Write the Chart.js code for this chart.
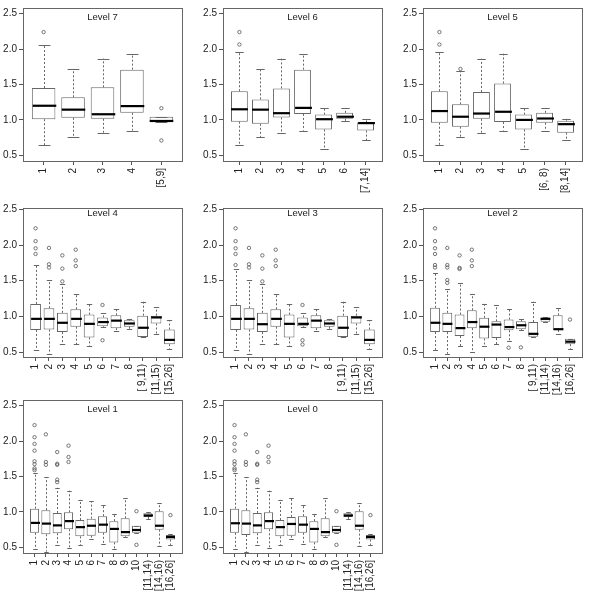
<!DOCTYPE html>
<html>
<head>
<meta charset="utf-8">
<script src="https://cdn.jsdelivr.net/npm/chart.js@4.4.0/dist/chart.umd.min.js"></script>
<style>
  body { margin: 0; background: #fff; }
  #wrap { position: relative; width: 600px; height: 600px; overflow: hidden; }
  .cell { position: absolute; width: 200px; height: 200px; }
</style>
</head>
<body>
<div id="wrap"></div>
<script>
// each box: [lower whisker, Q1, median, Q3, upper whisker]
const lab7 = ['1', '2', '3', '4', '[5,9]'];
const box7 = [
  [0.64, 1.01, 1.20, 1.45, 2.06],
  [0.76, 1.03, 1.145, 1.32, 1.72],
  [0.82, 1.015, 1.08, 1.46, 1.865],
  [0.85, 1.10, 1.195, 1.71, 1.935],
  [0.975, 0.975, 0.985, 1.045, 1.045]
];
const out7 = [[2.24], [], [], [], [1.165, 0.71]];

const lab6 = ['1', '2', '3', '4', '5', '6', '[7,14]'];
const box6 = [
  [0.64, 0.975, 1.15, 1.405, 1.955],
  [0.76, 0.945, 1.145, 1.29, 1.715],
  [0.82, 1.035, 1.095, 1.445, 1.865],
  [0.85, 1.085, 1.17, 1.71, 1.935],
  [0.585, 0.865, 1.01, 1.075, 1.17],
  [0.985, 1.015, 1.045, 1.10, 1.17],
  [0.71, 0.85, 0.955, 0.965, 1.015]
];
const out6 = [[2.24, 2.065], [], [], [], [], [], []];

const lab5 = ['1', '2', '3', '4', '5', '[6, 8)', '[8,14]'];
const box5 = [
  [0.64, 0.96, 1.125, 1.405, 1.955],
  [0.76, 0.905, 1.045, 1.22, 1.685],
  [0.82, 1.015, 1.09, 1.395, 1.865],
  [0.85, 0.97, 1.115, 1.515, 1.935],
  [0.585, 0.865, 1.0, 1.075, 1.17],
  [0.85, 0.96, 1.02, 1.10, 1.17],
  [0.71, 0.82, 0.94, 0.99, 1.015]
];
const out5 = [[2.24, 2.065], [1.72], [], [], [], [], []];

const lab4 = ['1', '2', '3', '4', '5', '6', '7', '8', '[ 9,11)', '[11,15)', '[15,26]'];
const box4 = [
  [0.53, 0.81, 0.965, 1.175, 1.72],
  [0.475, 0.815, 0.965, 1.115, 1.505],
  [0.615, 0.78, 0.91, 1.05, 1.45],
  [0.61, 0.855, 0.965, 1.10, 1.315],
  [0.585, 0.705, 0.895, 1.025, 1.175],
  [0.845, 0.86, 0.92, 0.985, 1.045],
  [0.795, 0.835, 0.94, 1.015, 1.11],
  [0.825, 0.855, 0.90, 0.945, 0.965],
  [0.71, 0.71, 0.84, 1.01, 1.205],
  [0.755, 0.90, 0.985, 1.01, 1.125],
  [0.545, 0.61, 0.67, 0.815, 0.95]
];
const out4 = [[2.235, 2.055, 1.955, 1.875], [1.96, 1.73, 1.685], [1.855, 1.67, 1.49],
  [1.935, 1.785, 1.705], [], [1.16, 0.665], [], [], [], [], []];

const lab3 = lab4;
const box3 = [
  [0.53, 0.81, 0.965, 1.16, 1.66],
  [0.475, 0.815, 0.965, 1.115, 1.505],
  [0.615, 0.78, 0.89, 1.05, 1.45],
  [0.61, 0.855, 0.965, 1.10, 1.315],
  [0.585, 0.705, 0.895, 1.025, 1.175],
  [0.845, 0.86, 0.895, 0.985, 1.045],
  [0.795, 0.835, 0.94, 1.015, 1.11],
  [0.825, 0.855, 0.90, 0.945, 0.965],
  [0.71, 0.71, 0.84, 1.01, 1.205],
  [0.755, 0.90, 0.985, 1.01, 1.125],
  [0.545, 0.61, 0.67, 0.815, 0.95]
];
const out3 = [[2.235, 2.055, 1.955, 1.875, 1.72], [1.96, 1.73, 1.685], [1.855, 1.67, 1.49],
  [1.935, 1.785, 1.705], [], [1.16, 0.665, 0.605], [], [], [], [], []];

const lab2 = ['1', '2', '3', '4', '5', '6', '7', '8', '[ 9,11)', '[11,14)', '[14,16)', '[16,26]'];
const box2 = [
  [0.53, 0.78, 0.91, 1.12, 1.615],
  [0.475, 0.78, 0.895, 1.05, 1.385],
  [0.585, 0.725, 0.835, 1.025, 1.47],
  [0.50, 0.835, 0.92, 1.085, 1.315],
  [0.585, 0.69, 0.855, 0.98, 1.175],
  [0.61, 0.695, 0.885, 0.93, 1.16],
  [0.65, 0.805, 0.85, 0.955, 1.11],
  [0.805, 0.82, 0.875, 0.93, 0.965],
  [0.715, 0.715, 0.755, 0.92, 1.205],
  [0.915, 0.925, 0.965, 0.985, 0.99],
  [0.755, 0.81, 0.82, 1.015, 1.12],
  [0.545, 0.61, 0.645, 0.685, 0.685]
];
const out2 = [[2.235, 2.055, 1.955, 1.875, 1.72, 1.685], [1.96, 1.72, 1.685, 1.51, 1.47],
  [1.855, 1.68, 1.665], [1.935, 1.785, 1.705], [], [], [0.56], [0.565], [], [], [], [0.955]];

const lab1 = ['1', '2', '3', '4', '5', '6', '7', '8', '9', '10', '[11,14)', '[14,16)', '[16,26]'];
const box1 = [
  [0.475, 0.705, 0.845, 1.045, 1.545],
  [0.44, 0.685, 0.835, 1.025, 1.49],
  [0.53, 0.70, 0.81, 0.985, 1.34],
  [0.495, 0.755, 0.87, 0.995, 1.30],
  [0.53, 0.655, 0.785, 0.885, 1.17],
  [0.615, 0.665, 0.805, 0.905, 1.15],
  [0.55, 0.705, 0.82, 0.94, 1.10],
  [0.475, 0.57, 0.76, 0.87, 0.965],
  [0.645, 0.655, 0.715, 0.91, 1.19],
  [0.705, 0.705, 0.745, 0.805, 0.805],
  [0.895, 0.93, 0.95, 0.98, 0.995],
  [0.52, 0.75, 0.805, 1.01, 1.12],
  [0.535, 0.61, 0.645, 0.675, 0.685]
];
const out1 = [[2.225, 2.055, 1.96, 1.865, 1.715, 1.675, 1.615, 1.59], [2.095, 1.705, 1.665],
  [1.845, 1.68, 1.665, 1.455, 1.42], [1.935, 1.775, 1.705], [], [], [], [], [],
  [1.01, 0.535], [], [], [0.955]];

const lab0 = lab1;
const box0 = [
  [0.475, 0.705, 0.84, 1.045, 1.545],
  [0.44, 0.675, 0.835, 1.025, 1.49],
  [0.53, 0.70, 0.81, 0.985, 1.34],
  [0.495, 0.755, 0.87, 0.995, 1.30],
  [0.53, 0.655, 0.785, 0.885, 1.17],
  [0.615, 0.665, 0.83, 0.93, 1.19],
  [0.55, 0.705, 0.82, 0.94, 1.10],
  [0.475, 0.57, 0.76, 0.87, 0.965],
  [0.645, 0.655, 0.715, 0.91, 1.19],
  [0.705, 0.705, 0.745, 0.805, 0.805],
  [0.895, 0.93, 0.95, 0.98, 0.995],
  [0.52, 0.75, 0.805, 1.01, 1.12],
  [0.535, 0.61, 0.645, 0.675, 0.685]
];
const out0 = out1;

const yTicks = [0.5, 1.0, 1.5, 2.0, 2.5];

const FONT = '"Liberation Sans", Arial, sans-serif';
const LINE = '#666';

// row placement (canvas top, plot top / bottom inside the canvas, y range)
const rows = [
  { top: 0, plotTop: 5, plotBottom: 161, min: 0.42, max: 2.58 },
  { top: 200, plotTop: 5, plotBottom: 157, min: 0.43, max: 2.52 },
  { top: 392, plotTop: 5, plotBottom: 161, min: 0.42, max: 2.58 }
];

const boxPlugin = {
  id: 'boxPlot',
  afterDatasetsDraw(chart, args, opts) {
    const ctx = chart.ctx;
    const x = chart.scales.x, y = chart.scales.y;
    const a = chart.chartArea;
    const boxes = opts.boxes || [];
    const bars = chart.getDatasetMeta(0).data;
    ctx.save();
    boxes.forEach((b, i) => {
      if (!bars[i]) return;
      const cx = Math.round(x.getPixelForValue(i + 1)) + 0.5;
      const w = bars[i].width;
      const cap = w * 0.25;
      ctx.strokeStyle = LINE;
      ctx.lineWidth = 1;
      // whiskers
      ctx.setLineDash([2, 2]);
      ctx.beginPath();
      ctx.moveTo(cx, y.getPixelForValue(b[3]));
      ctx.lineTo(cx, y.getPixelForValue(b[4]));
      ctx.moveTo(cx, y.getPixelForValue(b[1]));
      ctx.lineTo(cx, y.getPixelForValue(b[0]));
      ctx.stroke();
      ctx.setLineDash([]);
      // caps
      ctx.beginPath();
      [b[0], b[4]].forEach(v => {
        const py = Math.round(y.getPixelForValue(v)) + 0.5;
        ctx.moveTo(cx - cap, py);
        ctx.lineTo(cx + cap, py);
      });
      ctx.stroke();
      // median
      ctx.strokeStyle = '#000';
      ctx.lineWidth = 2.2;
      ctx.beginPath();
      const my = y.getPixelForValue(b[2]);
      ctx.moveTo(cx - w / 2, my);
      ctx.lineTo(cx + w / 2, my);
      ctx.stroke();
    });
    // frame
    ctx.strokeStyle = LINE;
    ctx.lineWidth = 1;
    ctx.strokeRect(Math.round(a.left) + 0.5, Math.round(a.top) + 0.5,
      Math.round(a.right - a.left), Math.round(a.bottom - a.top));
    // title
    ctx.fillStyle = '#222';
    ctx.font = '9.5px ' + FONT;
    ctx.textAlign = 'center';
    ctx.textBaseline = 'middle';
    ctx.fillText(opts.title || '', (a.left + a.right) / 2, y.getPixelForValue(2.45));
    ctx.restore();
  }
};

function makePanel(title, labels, boxes, outs, col, row) {
  const g = rows[row];
  const div = document.createElement('div');
  div.className = 'cell';
  div.style.left = (col * 200) + 'px';
  div.style.top = g.top + 'px';
  const canvas = document.createElement('canvas');
  canvas.width = 200;
  canvas.height = 200;
  div.appendChild(canvas);
  document.getElementById('wrap').appendChild(div);

  const n = labels.length;
  const ext = 0.04 * n;
  const boxData = boxes.map((b, i) => ({ x: i + 1, y: [b[1], b[3]] }));
  const outData = [];
  outs.forEach((o, i) => o.forEach(v => outData.push({ x: i + 1, y: v })));

  new Chart(canvas, {
    data: {
      datasets: [
        {
          type: 'bar',
          data: boxData,
          backgroundColor: '#fff',
          borderColor: LINE,
          borderWidth: 1,
          borderSkipped: false,
          barPercentage: 0.8,
          categoryPercentage: 1
        },
        {
          type: 'scatter',
          data: outData,
          pointRadius: 1.7,
          pointBorderWidth: 0.8,
          pointBorderColor: '#555',
          pointBackgroundColor: 'rgba(0,0,0,0)'
        }
      ]
    },
    options: {
      responsive: false,
      animation: false,
      events: [],
      layout: { padding: { top: g.plotTop, right: 18, left: 0, bottom: 0 } },
      plugins: {
        legend: { display: false },
        tooltip: { enabled: false },
        boxPlot: { boxes: boxes, title: title }
      },
      scales: {
        x: {
          type: 'linear',
          min: 0.5 - ext,
          max: n + 0.5 + ext,
          offset: false,
          afterBuildTicks: s => { s.ticks = labels.map((l, i) => ({ value: i + 1 })); },
          afterFit: s => { s.height = 200 - g.plotBottom; },
          ticks: {
            callback: (v, i) => labels[i],
            minRotation: 90,
            maxRotation: 90,
            autoSkip: false,
            padding: 3,
            color: '#222',
            font: { family: FONT, size: 10 }
          },
          grid: { drawOnChartArea: false, offset: false, tickLength: 4, color: '#555' },
          border: { display: false }
        },
        y: {
          min: g.min,
          max: g.max,
          afterBuildTicks: s => { s.ticks = yTicks.map(v => ({ value: v })); },
          afterFit: s => { s.width = 23; },
          ticks: {
            callback: v => v.toFixed(1),
            padding: 2,
            color: '#222',
            font: { family: FONT, size: 10 }
          },
          grid: { drawOnChartArea: false, tickLength: 4, color: '#555' },
          border: { display: false }
        }
      }
    },
    plugins: [boxPlugin]
  });
}

makePanel('Level 7', lab7, box7, out7, 0, 0);
makePanel('Level 6', lab6, box6, out6, 1, 0);
makePanel('Level 5', lab5, box5, out5, 2, 0);
makePanel('Level 4', lab4, box4, out4, 0, 1);
makePanel('Level 3', lab3, box3, out3, 1, 1);
makePanel('Level 2', lab2, box2, out2, 2, 1);
makePanel('Level 1', lab1, box1, out1, 0, 2);
makePanel('Level 0', lab0, box0, out0, 1, 2);
</script>
</body>
</html>
